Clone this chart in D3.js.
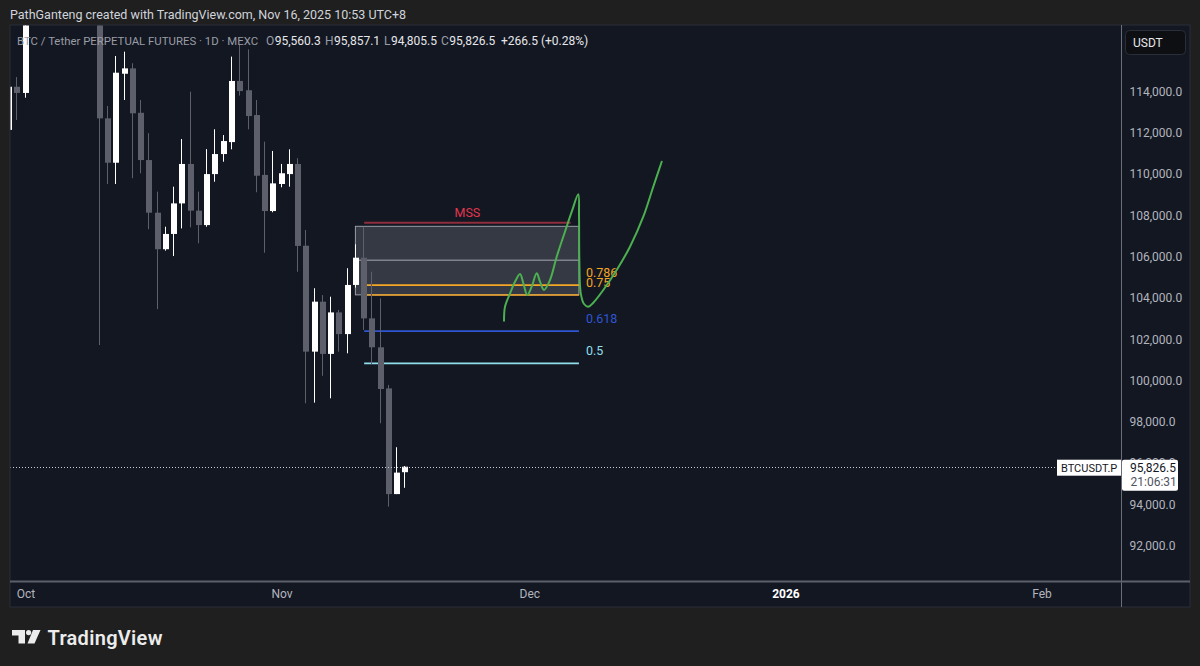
<!DOCTYPE html>
<html><head><meta charset="utf-8">
<script src="https://cdn.jsdelivr.net/npm/d3@7"></script>
<style>
html,body{margin:0;padding:0;background:#1f1f1f;}
svg{display:block;}
text{font-family:Roboto,"Noto Sans",sans-serif;}
</style></head><body>
<svg id="c" width="1200" height="666"></svg>
<script>
// ---------- DATA ----------
const dates = ["2025-09-29","2025-09-30","2025-10-01","2025-10-02","2025-10-03","2025-10-04","2025-10-05","2025-10-06","2025-10-07","2025-10-08","2025-10-09","2025-10-10","2025-10-11","2025-10-12","2025-10-13","2025-10-14","2025-10-15","2025-10-16","2025-10-17","2025-10-18","2025-10-19","2025-10-20","2025-10-21","2025-10-22","2025-10-23","2025-10-24","2025-10-25","2025-10-26","2025-10-27","2025-10-28","2025-10-29","2025-10-30","2025-10-31","2025-11-01","2025-11-02","2025-11-03","2025-11-04","2025-11-05","2025-11-06","2025-11-07","2025-11-08","2025-11-09","2025-11-10","2025-11-11","2025-11-12","2025-11-13","2025-11-14","2025-11-15","2025-11-16"];
const opens  = [112140,114230,113930,118500,120500,122250,122400,123500,124700,121400,123300,121600,112700,110550,114860,115120,112970,110680,108130,106360,107100,108580,110490,108230,107530,110000,110970,111550,114510,114060,112860,109960,108210,109520,110000,110490,106530,101400,103820,101290,103300,102250,104630,105950,103010,101610,99620,94500,95560.3];
const highs  = [114400,114700,118600,121000,123900,122900,125400,126200,125100,124100,123700,122500,113300,115720,115930,115370,113590,111980,109150,107450,109390,111700,113990,109150,111210,112170,111890,115690,116250,116040,113590,111570,111120,110490,111200,110770,107290,104470,104140,104060,103420,105440,106600,107450,105270,103980,99790,96770,95857.1];
const lows   = [111600,112620,113700,118300,119300,121600,122000,123100,120600,121100,119700,101720,109520,109520,113590,109800,110040,107330,103460,106290,106030,107370,107420,106650,107450,109630,110600,111200,113800,112170,109120,106190,108150,109360,109390,105270,98900,98930,100230,99140,101400,101320,104500,102450,100800,97930,93890,94500,94805.5];
const closes = [114230,113930,118500,120500,122250,122400,123500,124700,121400,123300,121600,112700,110550,114910,115120,112944,110680,108130,106360,107100,108580,110490,108230,107530,110000,110970,111600,114510,114020,112810,109920,108210,109550,110040,110490,106520,101400,103820,101290,103300,102250,104630,105950,103010,101610,99590,94500,95540,95826.5];

const priceTicks = [92000,94000,96000,98000,100000,102000,104000,106000,108000,110000,112000,114000];
const timeTicks = ["2025-10-01","2025-11-01","2025-12-01","2026-01-01","2026-02-01"];
const timeTickLabels = ["Oct","Nov","Dec","2026","Feb"];

const lastPrice = 95826.5;
const countdown = "21:06:31";

// Fibonacci tool
const fibLow = 94200, fibHigh = 107460;
const fibLevels = [0.786, 0.75, 0.618, 0.5];
const fibLabels = ["0.786", "0.75", "0.618", "0.5"];
const fibColors = ["#f5a623", "#f5a623", "#2f55d4", "#8fdfec"];
const fibStart = "2025-11-11", fibEnd = "2025-12-07";
// Zone box
const boxStart = "2025-11-10", boxEnd = "2025-12-07";
const boxTop = 107470, boxBottom = 104150, boxMid = 105830;
// MSS line
const mssPrice = 107640, mssStart = "2025-11-11", mssEnd = "2025-12-06";

// Hand-drawn projection (days after 2025-10-01, price)
const drawDays   = [57.93,58.05,58.66,59.26,59.87,60.27,60.75,61.28,61.89,62.29,62.77,63.50,64.31,65.31,66.13,66.92,67.01,67.05,67.22,67.62,68.14,68.74,69.95,71.57,73.18,74.79,76.00,77.02];
const drawPrices = [102898,103576,104225,104787,105160,104710,104143,104545,105194,104787,104385,104869,105998,107209,108178,109021,107936,105838,104225,103707,103576,103770,104385,105354,106482,107936,109389,110600];

// ---------- CHART ----------
const svg = d3.select("#c");
const W = 1200, H = 666;
const P = {l:10, t:25, r:1190, b:607, axisX:1121.5, axisY:581.5};
const parse = s => new Date(s + "T00:00:00Z");

const x = d3.scaleUtc().domain([parse("2025-10-01"), parse("2026-02-01")]).range([25.5, 1041.5]);
const y = d3.scaleLinear().domain([92000,114000]).range([545.7, 91.5]);

svg.append("rect").attr("width",W).attr("height",H).attr("fill","#1f1f1f");
svg.append("text").attr("x",10).attr("y",19).attr("fill","#d1d4dc").attr("font-size",12.5)
  .text("PathGanteng created with TradingView.com, Nov 16, 2025 10:53 UTC+8");

svg.append("rect").attr("x",P.l).attr("y",P.t).attr("width",P.r-P.l).attr("height",P.b-P.t)
  .attr("fill","#131722").attr("stroke","#2a2e39");

const defs = svg.append("defs");
defs.append("clipPath").attr("id","plot").append("rect")
  .attr("x",P.l+0.5).attr("y",P.t+0.5).attr("width",P.axisX-P.l-1).attr("height",P.axisY-P.t-1.5);

const plot = svg.append("g").attr("clip-path","url(#plot)");

// box zone
plot.append("rect")
  .attr("x", x(parse(boxStart))-0.5).attr("y", y(boxTop))
  .attr("width", x(parse(boxEnd)) - x(parse(boxStart)) + 0.5)
  .attr("height", y(boxBottom) - y(boxTop))
  .attr("fill","rgba(125,128,140,0.33)").attr("stroke","rgba(175,178,188,0.85)").attr("stroke-width",1);
plot.append("line")
  .attr("x1", x(parse(boxStart))).attr("x2", x(parse(boxEnd)))
  .attr("y1", y(boxMid)).attr("y2", y(boxMid))
  .attr("stroke","rgba(185,188,196,0.85)").attr("stroke-width",1);

// MSS
plot.append("line")
  .attr("x1", x(parse(mssStart))).attr("x2", x(parse(mssEnd)))
  .attr("y1", y(mssPrice)).attr("y2", y(mssPrice))
  .attr("stroke","#8e2d3b").attr("stroke-width",2);
plot.append("text").attr("x", (x(parse(mssStart))+x(parse(mssEnd)))/2 - 0).attr("y", y(mssPrice)-6)
  .attr("text-anchor","middle").attr("fill","#e0364d").attr("font-size",12.5).text("MSS");

// fib lines
fibLevels.forEach((lv,i) => {
  const p = fibLow + lv*(fibHigh-fibLow);
  plot.append("line")
    .attr("x1", x(parse(fibStart))).attr("x2", x(parse(fibEnd)))
    .attr("y1", y(p)).attr("y2", y(p))
    .attr("stroke", fibColors[i]).attr("stroke-width",1.6);
  plot.append("text").attr("x", x(parse(fibEnd))+7).attr("y", y(p)-8)
    .attr("fill", fibColors[i]).attr("font-size",12.5).text(fibLabels[i]);
});

// candles
const up = "#ffffff", down = "#5d606b";
dates.forEach((d,i) => {
  const cx = Math.round(x(parse(d)));
  const o = opens[i], c = closes[i], hi = highs[i], lo = lows[i];
  const col = c >= o ? up : down;
  plot.append("rect").attr("x", cx-1).attr("width",1)
    .attr("y", y(hi)).attr("height", Math.max(1, y(lo)-y(hi))).attr("fill", col);
  const top = y(Math.max(o,c)), bot = y(Math.min(o,c));
  plot.append("rect").attr("x", cx-3).attr("width",6)
    .attr("y", top).attr("height", Math.max(1, bot-top)).attr("fill", col);
});

// green hand drawing
const drawBase = parse("2025-10-01").getTime();
const drawPts = drawDays.map((dd,i) => [x(new Date(drawBase + dd*864e5)), y(drawPrices[i])]);
plot.append("path").attr("d", d3.line().curve(d3.curveCatmullRom.alpha(0.5))(drawPts))
  .attr("fill","none").attr("stroke","#4caf50").attr("stroke-width",2)
  .attr("stroke-linejoin","round").attr("stroke-linecap","round");

// last price dotted line
plot.append("line").attr("x1",P.l).attr("x2",P.axisX).attr("y1",Math.round(y(lastPrice))+0.5).attr("y2",Math.round(y(lastPrice))+0.5)
  .attr("stroke","#c8cad0").attr("stroke-width",1).attr("stroke-dasharray","1,2");

// symbol header
const hdr = svg.append("text").attr("y",45).attr("font-size",12);
hdr.append("tspan").attr("x",17).attr("fill","#9a9ca5").attr("font-size",11.4).text("BTC / Tether PERPETUAL FUTURES · 1D · MEXC");
const ohlcLbl = [["O","95,560.3",266],["H","95,857.1",325],["L","94,805.5",384],["C","95,826.5",441]];
ohlcLbl.forEach(([k,v,px]) => {
  hdr.append("tspan").attr("x",px).attr("fill","#9a9ca5").text(k);
  hdr.append("tspan").attr("fill","#e6e7ea").attr("dx",0.5).text(v);
});
hdr.append("tspan").attr("x",501).attr("fill","#e6e7ea").text("+266.5 (+0.28%)");

// axes separators
svg.append("line").attr("x1",P.axisX).attr("x2",P.axisX).attr("y1",P.t).attr("y2",P.b).attr("stroke","#6b6e78");
svg.append("line").attr("x1",P.l).attr("x2",P.r).attr("y1",P.axisY).attr("y2",P.axisY).attr("stroke","#5d606b").attr("stroke-width",2);

// price axis
const yAxis = d3.axisRight(y).tickValues(priceTicks).tickFormat(d3.format(",.1f")).tickSize(0).tickPadding(8);
const ya = svg.append("g").attr("transform",`translate(${P.axisX},0)`).call(yAxis);
ya.select(".domain").remove();
ya.selectAll("text").attr("fill","#b2b5be").attr("font-size",12).attr("font-family","Roboto,sans-serif");

// time axis
const xAxis = d3.axisBottom(x).tickValues(timeTicks.map(parse))
  .tickFormat((d,i) => timeTickLabels[i]).tickSize(0).tickPadding(7);
const xa = svg.append("g").attr("transform",`translate(0,${P.axisY+1})`).call(xAxis);
xa.select(".domain").remove();
xa.selectAll("text").attr("fill",(d,i) => timeTickLabels[i]==="2026" ? "#ffffff" : "#b2b5be")
  .attr("font-weight",(d,i) => timeTickLabels[i]==="2026" ? 700 : 400)
  .attr("font-size",12).attr("font-family","Roboto,sans-serif");

// USDT box
svg.append("rect").attr("x",1125.5).attr("y",30.5).attr("width",60).attr("height",24).attr("rx",4)
  .attr("fill","#0e0f13").attr("stroke","#2a2e39");
svg.append("text").attr("x",1133).attr("y",47).attr("fill","#e6e7ea").attr("font-size",12).text("USDT");

// last price labels
const ly = y(lastPrice);
svg.append("rect").attr("x",1057).attr("y",ly-7).attr("width",64).attr("height",16).attr("fill","#ffffff");
svg.append("text").attr("x",1061).attr("y",ly+5).attr("fill","#131722").attr("font-size",11).text("BTCUSDT.P");
svg.append("rect").attr("x",1122).attr("y",ly-7).attr("width",56).attr("height",31).attr("rx",2).attr("fill","#ffffff");
svg.append("text").attr("x",1130).attr("y",ly+5.5).attr("fill","#131722").attr("font-size",12).text(d3.format(",.1f")(lastPrice));
svg.append("text").attr("x",1130.5).attr("y",ly+19.5).attr("fill","#50535e").attr("font-size",12).text(countdown);

// TradingView logo
const logo = svg.append("g").attr("fill","#ececec");
logo.append("path").attr("d","M12,630 H25 V643.5 H18.5 V635.5 H12 Z");
logo.append("circle").attr("cx",28.6).attr("cy",632.6).attr("r",2.6);
logo.append("path").attr("d","M33,630 H40.5 L34.5,643.5 H27.5 Z");
logo.append("text").attr("x",47.5).attr("y",644.5).attr("font-size",20).attr("font-weight",600)
  .attr("font-family","Inter,Roboto,sans-serif").attr("letter-spacing",0.3).text("TradingView");
</script>
</body></html>
